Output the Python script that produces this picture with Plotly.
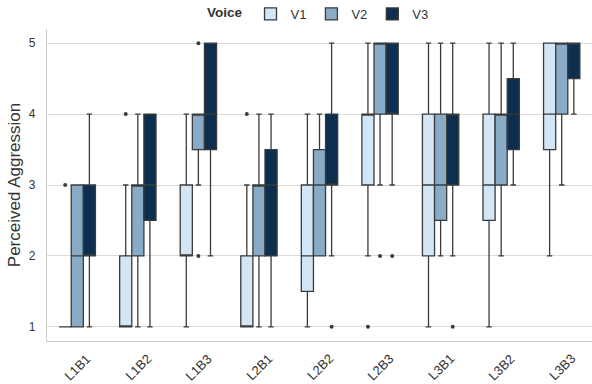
import plotly.graph_objects as go

categories = ["L1B1", "L1B2", "L1B3", "L2B1", "L2B2", "L2B3", "L3B1", "L3B2", "L3B3"]
voices = ["V1", "V2", "V3"]

# Box statistics per voice (one value per category)
v1_q1 = [1, 1, 2, 1, 1.5, 3, 2, 2.5, 3.5]
v1_med = [1, 1, 2, 1, 2, 4, 3, 3, 4]
v1_q3 = [1, 2, 3, 2, 3, 4, 4, 4, 5]
v1_lo = [1, 1, 1, 1, 1, 2, 1, 1, 2]
v1_hi = [1, 3, 4, 3, 4, 5, 5, 5, 5]

v2_q1 = [1, 2, 3.5, 2, 2, 4, 2.5, 3, 4]
v2_med = [2, 3, 4, 3, 3, 5, 3, 4, 5]
v2_q3 = [3, 3, 4, 3, 3.5, 5, 4, 4, 5]
v2_lo = [1, 1, 3, 1, 2, 3, 2, 2, 3]
v2_hi = [3, 4, 4, 4, 4, 5, 5, 5, 5]

v3_q1 = [2, 2.5, 3.5, 2, 3, 4, 3, 3.5, 4.5]
v3_med = [2, 3, 4, 3, 3, 4, 4, 4, 5]
v3_q3 = [3, 4, 5, 3.5, 4, 5, 4, 4.5, 5]
v3_lo = [1, 1, 2, 1, 2, 3, 2, 3, 4]
v3_hi = [4, 4, 5, 4, 5, 5, 5, 5, 5]

# Outliers: (category, value)
v1_out_cat = ["L1B1", "L1B2", "L2B1", "L2B3"]
v1_out_val = [3, 4, 4, 1]
v2_out_cat = ["L1B3", "L1B3", "L2B3"]
v2_out_val = [2, 5, 2]
v3_out_cat = ["L2B2", "L2B3", "L3B1"]
v3_out_val = [1, 2, 1]

colors = ["#d2e6f5", "#88abc8", "#0c2f4f"]
edge = "#3b3b3b"
text_col = "#333333"
box_w = 0.2
offsets = [-0.2, 0.0, 0.2]

stats = [
    (v1_q1, v1_med, v1_q3, v1_lo, v1_hi, v1_out_cat, v1_out_val),
    (v2_q1, v2_med, v2_q3, v2_lo, v2_hi, v2_out_cat, v2_out_val),
    (v3_q1, v3_med, v3_q3, v3_lo, v3_hi, v3_out_cat, v3_out_val),
]

fig = go.Figure()
for k, (q1, med, q3, lo, hi, oc, ov) in enumerate(stats):
    xs = [i + offsets[k] for i in range(len(categories))]
    fig.add_trace(go.Box(
        x=xs, q1=q1, median=med, q3=q3, lowerfence=lo, upperfence=hi,
        name=voices[k], width=box_w, fillcolor=colors[k],
        line=dict(color=edge, width=1.3), whiskerwidth=0.45,
        boxpoints=False, hoverinfo="skip",
    ))
    ox = [categories.index(c) + offsets[k] for c in oc]
    fig.add_trace(go.Scatter(
        x=ox, y=ov, mode="markers", showlegend=False, hoverinfo="skip",
        marker=dict(color=edge, size=4),
    ))

# Category labels, rotated and centred under each category
for i, cat in enumerate(categories):
    fig.add_annotation(
        x=i, xref="x", y=0, yref="paper", yshift=-26,
        text=cat, showarrow=False, textangle=-45,
        xanchor="center", yanchor="middle",
        font=dict(size=13, color=text_col),
    )

fig.update_layout(
    width=592, height=384,
    margin=dict(l=47, r=0, t=28, b=43),
    paper_bgcolor="white", plot_bgcolor="white",
    boxmode="overlay",
    font=dict(family="Liberation Sans, Arial, sans-serif", color=text_col),
    legend=dict(
        orientation="h", x=0.5, xanchor="center",
        yref="container", y=1 - 14 / 384, yanchor="middle",
        title=dict(text="<b>Voice</b>", font=dict(size=13.5, color=text_col)),
        font=dict(size=13, color=text_col), bgcolor="rgba(0,0,0,0)",
        itemwidth=30, tracegroupgap=0,
    ),
    xaxis=dict(
        range=[-0.5, 8.5], tickmode="array",
        tickvals=list(range(len(categories))), showticklabels=False,
        showgrid=False, zeroline=False,
        showline=True, linecolor="#cccccc", linewidth=1.3,
        ticks="", automargin=False,
    ),
    yaxis=dict(
        range=[0.8, 5.2], tickvals=[1, 2, 3, 4, 5],
        tickfont=dict(size=12, color=text_col),
        showgrid=True, gridcolor="#dcdcdc", gridwidth=1,
        zeroline=False, showline=True, linecolor="#cccccc", linewidth=1.3,
        ticks="", ticklabelstandoff=8,
        title=dict(text="Perceived Aggression", font=dict(size=17, color=text_col), standoff=3),
        automargin=False,
    ),
)

fig.write_html(
    "out.html",
    config={"displayModeBar": False},
    post_script="document.body.style.margin='0';document.body.style.overflow='hidden';",
)
